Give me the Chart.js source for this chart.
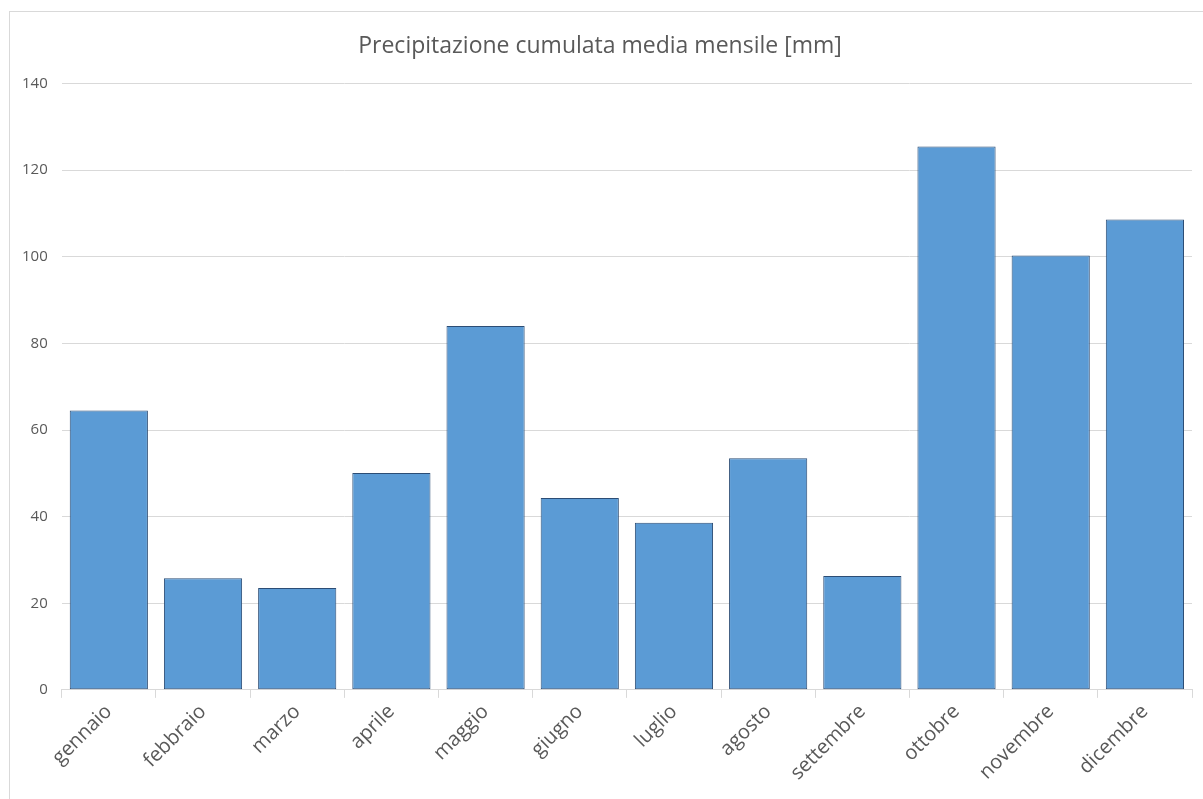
<!DOCTYPE html>
<html>
<head>
<meta charset="utf-8">
<script src="https://cdn.jsdelivr.net/npm/chart.js@4.4.0/dist/chart.umd.min.js"></script>
<style>
  html, body { margin: 0; padding: 0; background: #fff; overflow: hidden; }
  #frame { position: absolute; left: 9px; top: 11px; width: 1200px; height: 800px; border: 1px solid #d9d9d9; }
  #wrap { position: absolute; left: 0; top: 0; width: 1203px; height: 799px; }
</style>
</head>
<body>
<div id="frame"></div>
<div id="wrap"><canvas id="rainChart"></canvas></div>
<script>
const months = ["gennaio", "febbraio", "marzo", "aprile", "maggio", "giugno",
  "luglio", "agosto", "settembre", "ottobre", "novembre", "dicembre"];
const rainMm = [64.5, 25.8, 23.5, 50.1, 84.0, 44.3, 38.6, 53.5, 26.3, 125.5, 100.3, 108.6];
const chartTitle = "Precipitazione cumulata media mensile [mm]";

const ctx = document.getElementById("rainChart").getContext("2d");
const fontFam = "'Open Sans', 'Noto Sans', sans-serif";

new Chart(ctx, {
  type: "bar",
  data: {
    labels: months,
    datasets: [{
      label: "Precipitazione",
      data: rainMm,
      backgroundColor: "#5b9bd5",
      borderColor: "#2c4d75",
      borderWidth: 1,
      borderSkipped: false,
      categoryPercentage: 1,
      barPercentage: 0.83
    }]
  },
  options: {
    responsive: true,
    maintainAspectRatio: false,
    animation: false,
    layout: { padding: { left: 8, right: 11, top: 29, bottom: 12 } },
    plugins: {
      legend: { display: false },
      tooltip: { enabled: false },
      title: {
        display: true,
        text: chartTitle,
        color: "#595959",
        font: { family: fontFam, size: 23, weight: "normal" },
        padding: { top: 4, bottom: 23 }
      }
    },
    scales: {
      x: {
        offset: true,
        grid: { offset: true, drawOnChartArea: false, color: "#d9d9d9", tickLength: 8 },
        border: { color: "#d9d9d9" },
        ticks: {
          color: "#595959",
          font: { family: fontFam, size: 20 },
          maxRotation: 45,
          minRotation: 45,
          padding: 2
        }
      },
      y: {
        min: 0,
        max: 140,
        grid: { color: "#d9d9d9", drawTicks: false },
        border: { display: false },
        ticks: {
          stepSize: 20,
          color: "#595959",
          font: { family: fontFam, size: 15 },
          padding: 14
        }
      }
    }
  }
});
</script>
</body>
</html>
